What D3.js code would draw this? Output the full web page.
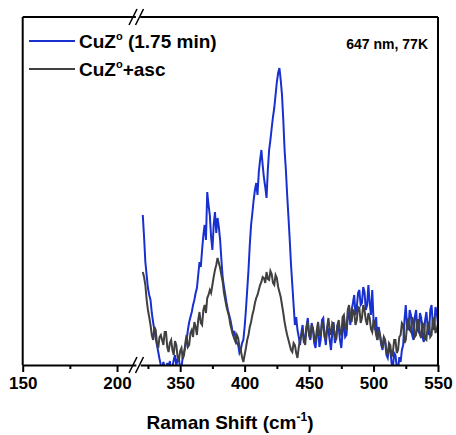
<!DOCTYPE html>
<html><head><meta charset="utf-8">
<script src="https://cdn.jsdelivr.net/npm/d3@7/dist/d3.min.js"></script>
<style>body{margin:0;background:#fff}svg{display:block}</style>
</head><body>
<script>
// ---- data ----
const wavenumbers = d3.range(321, 551, 1);
const cuzBlue = [
150,128,103,90,77,70,65,52,43,35,
27,20,13,6,0,-4,3,-2,-5,2,
-3,4,-7,-2,5,10,-1,6,7,-4,
-3,8,13,18,25,35,43,48,53,60,
65,72,77,90,103,98,115,130,140,125,
173,160,150,128,115,140,153,132,147,138,
125,105,87,78,70,62,55,50,45,38,
30,34,27,22,20,12,15,22,25,38,
55,75,95,120,140,152,165,175,182,170,
193,205,215,200,187,178,167,195,215,225,
237,248,257,270,283,292,297,285,270,245,
215,195,170,148,125,100,80,60,40,48,
35,28,20,32,40,22,27,38,47,30,
25,42,35,22,17,30,40,18,25,45,
47,30,20,38,35,25,15,32,43,22,
27,40,37,25,17,33,45,28,30,48,
53,40,55,62,70,50,58,72,75,60,
62,78,73,55,60,80,62,50,75,45,
35,48,25,38,30,20,15,28,23,10,
7,18,15,2,-3,12,10,-2,-5,8,
3,15,20,45,60,38,35,55,50,30,
25,48,55,35,33,52,47,28,23,45,
53,38,30,55,60,40,35,58,53,40];
const cuzAsc = [
93,88,80,65,55,48,40,30,25,38,
35,22,17,28,30,25,20,33,33,18,
13,22,25,15,10,24,20,8,5,14,
17,6,10,22,30,18,20,32,35,28,
43,38,30,45,53,42,40,55,60,52,
67,70,75,72,80,88,95,100,107,102,
97,90,83,72,65,58,53,48,40,35,
30,26,23,30,27,18,15,8,3,10,
17,25,30,38,43,50,55,62,67,70,
75,80,83,88,87,82,93,86,85,94,
91,82,80,90,87,78,73,68,60,52,
43,36,30,25,20,15,13,22,20,12,
7,18,25,30,35,24,20,38,43,30,
27,40,37,28,23,35,43,30,30,42,
40,28,25,38,47,35,30,42,40,28,
25,40,45,32,30,48,50,38,35,55,
60,48,43,55,53,40,45,58,57,42,
47,60,55,45,40,52,47,36,33,45,
40,30,25,35,30,22,17,28,25,14,
10,22,20,8,13,25,25,12,15,28,
30,42,40,22,25,40,47,35,33,48,
43,28,30,45,45,30,27,42,40,26,
25,40,43,28,30,45,47,32,35,42];
const seriesNames = ["CuZ\u00B0 (1.75 min)", "CuZ\u00B0+asc"];
const leftTicks = [150, 200], leftMinor = [175];
const rightTicks = [350, 400, 450, 500, 550], rightMinor = [325, 375, 425, 475, 525];
const annotation = "647 nm, 77K";

// ---- layout ----
const W = 456, H = 435;
const L = 22.7, R = 438, T = 17, B = 365;
const svg = d3.select("body").append("svg").attr("width", W).attr("height", H);
const xL = d3.scaleLinear().domain([150, 210]).range([L, 135.9]);
const xR = d3.scaleLinear().domain([319, 550]).range([140.2, R]);
const y = d3.scaleLinear().domain([0, 348]).range([B, T]);

svg.append("clipPath").attr("id", "clip").append("rect")
  .attr("x", L).attr("y", T).attr("width", R - L).attr("height", B - T);

const line = d3.line().x((d, i) => xR(wavenumbers[i])).y(d => y(d));
const colors = ["#1830d0", "#404040"];
const dataSets = [cuzBlue, cuzAsc];
dataSets.forEach((ds, k) => {
  svg.append("path").datum(ds).attr("clip-path", "url(#clip)")
    .attr("fill", "none").attr("stroke", colors[k]).attr("stroke-width", 2)
    .attr("stroke-linejoin", "miter").attr("d", line);
});

// frame
const frame = svg.append("g").attr("stroke", "#000").attr("stroke-width", 2).attr("fill", "none");
frame.append("line").attr("x1", L).attr("x2", L).attr("y1", T).attr("y2", B);
frame.append("line").attr("x1", R).attr("x2", R).attr("y1", T).attr("y2", B);
frame.append("line").attr("x1", L).attr("x2", xL.range()[1]).attr("y1", T).attr("y2", T);
frame.append("line").attr("x1", xR.range()[0]).attr("x2", R).attr("y1", T).attr("y2", T);

const font = "Liberation Sans, Arial, sans-serif";
function axis(scale, ticks, minor) {
  const g = svg.append("g").attr("transform", `translate(0,${B})`);
  g.call(d3.axisBottom(scale).tickValues(ticks).tickSize(7).tickSizeOuter(0).tickPadding(5));
  g.select(".domain").attr("stroke-width", 2);
  g.selectAll(".tick line").attr("stroke-width", 2);
  g.selectAll(".tick text").attr("font-family", font)
    .attr("font-weight", "bold").attr("font-size", 17).attr("fill", "#000");
  const gm = svg.append("g").attr("transform", `translate(0,${B})`);
  gm.call(d3.axisBottom(scale).tickValues(minor).tickSize(4).tickFormat(""));
  gm.select(".domain").remove();
  gm.selectAll(".tick line").attr("stroke-width", 2);
}
axis(xL, leftTicks, leftMinor);
axis(xR, rightTicks, rightMinor);

// break marks
[B, T].forEach(yy => {
  [133, 139.5].forEach(xx => {
    svg.append("line").attr("x1", xx - 4).attr("y1", yy + 8).attr("x2", xx + 4).attr("y2", yy - 8)
      .attr("stroke", "#000").attr("stroke-width", 1.6);
  });
});

// legend
const legY = [41, 69];
seriesNames.forEach((name, k) => {
  svg.append("line").attr("x1", 29).attr("x2", 75).attr("y1", legY[k]).attr("y2", legY[k])
    .attr("stroke", colors[k]).attr("stroke-width", 2);
  const parts = name.split("\u00B0");
  const t = svg.append("text").attr("x", 79).attr("y", legY[k] + 7)
    .attr("font-family", font).attr("font-weight", "bold").attr("font-size", 19).attr("fill", "#000");
  t.append("tspan").text(parts[0]);
  t.append("tspan").attr("font-size", 11).attr("dy", -8).text("o");
  t.append("tspan").attr("dy", 8).text(parts[1]);
});
svg.append("text").attr("x", 428).attr("y", 49).attr("text-anchor", "end")
  .attr("font-family", font).attr("font-weight", "bold").attr("font-size", 14).text(annotation);

// axis title
const xt = svg.append("text").attr("x", 230).attr("y", 429).attr("text-anchor", "middle")
  .attr("font-family", font).attr("font-weight", "bold").attr("font-size", 19);
xt.append("tspan").text("Raman Shift (cm");
xt.append("tspan").attr("font-size", 12).attr("dy", -8).text("-1");
xt.append("tspan").attr("dy", 8).text(")");
</script>
</body></html>
